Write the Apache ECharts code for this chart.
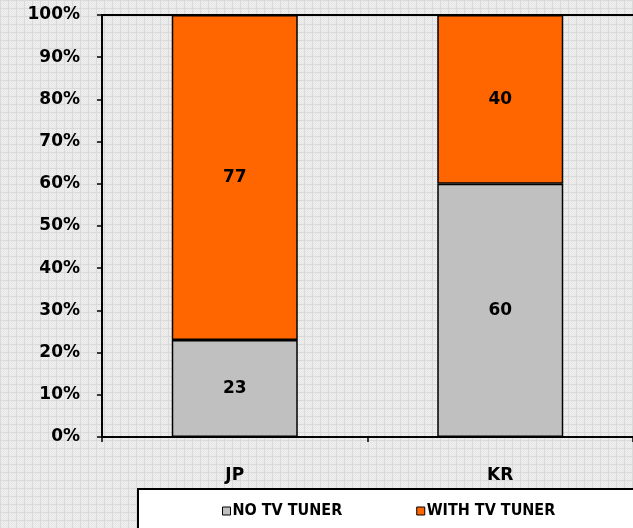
<!DOCTYPE html>
<html>
<head>
<meta charset="utf-8">
<script src="https://cdn.jsdelivr.net/npm/echarts@6/dist/echarts.min.js"></script>
<style>
html,body{margin:0;padding:0;}
#chart{width:633px;height:528px;}
</style>
</head>
<body>
<div id="chart"></div>
<script>
const categories = ['JP', 'KR'];
const noTuner = [23, 60];
const withTuner = [77, 40];
const seriesNames = ['NO TV TUNER', 'WITH TV TUNER'];

// patterned background (style only)
(function(){
  const c = document.createElement('canvas');
  c.width = 8; c.height = 8;
  const g = c.getContext('2d');
  g.fillStyle = '#f0f0f0'; g.fillRect(0,0,8,8);
  g.fillStyle = '#e6e6e6';
  for (let i=0;i<8;i++) for (let j=0;j<8;j++) if ((i+j)%2===0) g.fillRect(i,j,1,1);
  g.fillStyle = '#dadada';
  g.fillRect(0,0,8,1); g.fillRect(0,0,1,8);
  document.getElementById('chart').style.background = 'url(' + c.toDataURL() + ')';
})();

const chart = echarts.init(document.getElementById('chart'), null, {renderer:'canvas'});
const fontFam = '"DejaVu Sans", Verdana, sans-serif';
const labelStyle = {show:true, position:'inside', color:'#000', fontWeight:'bold', fontSize:17, fontFamily:fontFam, formatter:'{c}'};
chart.setOption({
  backgroundColor: 'transparent',
  animation: false,
  grid: {left:102, right:-1, top:15, bottom:91},
  graphic: [
    {type:'rect', left:137, top:488, shape:{width:510, height:60}, style:{fill:'#fff', stroke:'#000', lineWidth:2}, z:0},
    {type:'line', shape:{x1:101, y1:15, x2:633, y2:15}, style:{stroke:'#000', lineWidth:2}, z:10}
  ],
  legend: {
    data: seriesNames,
    left: 217, top: 498,
    icon: 'rect', itemWidth: 8, itemHeight: 8, itemGap: 74,
    textStyle: {color:'#000', fontWeight:'bold', fontSize:16, fontFamily:'"DejaVu Sans Condensed", "DejaVu Sans", sans-serif', padding:[0,0,0,-3]},
    itemStyle: {borderColor:'#000', borderWidth:1}
  },
  xAxis: {
    type:'category', data: categories,
    axisLine:{lineStyle:{color:'#000', width:2}},
    axisTick:{show:true, length:5, lineStyle:{color:'#000', width:1.5}},
    axisLabel:{color:'#000', fontWeight:'bold', fontSize:17, fontFamily:fontFam, margin:30}
  },
  yAxis: {
    type:'value', min:0, max:100, interval:10,
    axisLine:{show:true, lineStyle:{color:'#000', width:2}},
    axisTick:{show:true, length:5, lineStyle:{color:'#000', width:1.5}},
    splitLine:{show:false},
    axisLabel:{color:'#000', fontWeight:'bold', fontSize:17, fontFamily:fontFam, margin:22, formatter:'{value}%'}
  },
  series: [
    {name:seriesNames[0], type:'bar', stack:'s', data:noTuner, barWidth:126,
     itemStyle:{color:'#c0c0c0', borderColor:'#000', borderWidth:1.5}, label:labelStyle},
    {name:seriesNames[1], type:'bar', stack:'s', data:withTuner, barWidth:126,
     itemStyle:{color:'#ff6600', borderColor:'#000', borderWidth:1.5}, label:labelStyle}
  ]
});
</script>
</body>
</html>
